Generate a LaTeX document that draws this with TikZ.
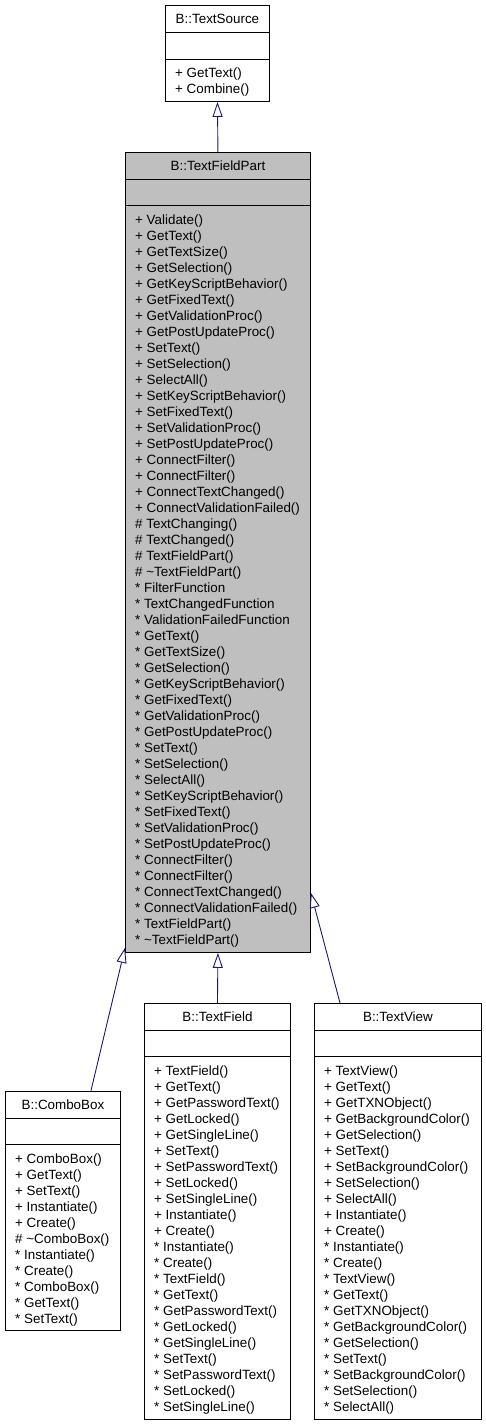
\documentclass[tikz,border=0pt]{standalone}
\usepackage{fontspec}
\setmainfont{Liberation Sans}
\usetikzlibrary{arrows.meta}
\definecolor{edgeblue}{HTML}{191970}
\definecolor{partgray}{HTML}{BFBFBF}
\begin{document}
\begin{tikzpicture}[x=1pt,y=-1pt,
  cls/.style={draw, line width=0.9pt, anchor=north west, inner sep=0pt},
  ttl/.style={inner sep=0pt, font=\fontsize{13.4}{16}\selectfont},
  ops/.style={anchor=north west, align=left, inner xsep=10pt, inner ysep=0pt, font=\fontsize{13.4}{16}\selectfont},
  sep/.style={line width=0.9pt},
  inh/.style={draw=edgeblue, line width=0.9pt, -{Triangle[open, length=15pt, width=10pt]}}]
\useasboundingbox (0,0) rectangle (485,1427);
\node[cls, minimum width=104pt, minimum height=96pt] (src) at (165,5){};
\node[ttl] (srct) at ([yshift=-13.5pt]src.north){B::TextSource};
\draw[sep] ([yshift=-27pt]src.north west) -- ([yshift=-27pt]src.north east);
\draw[sep] ([yshift=-54pt]src.north west) -- ([yshift=-54pt]src.north east);
\node[ops] (srco) at ([yshift=-63pt]src.north west){+ GetText()\\+ Combine()};
\node[cls, fill=partgray, minimum width=185pt, minimum height=800pt] (part) at (125,152){};
\node[ttl] (partt) at ([yshift=-13.5pt]part.north){B::TextFieldPart};
\draw[sep] ([yshift=-27pt]part.north west) -- ([yshift=-27pt]part.north east);
\draw[sep] ([yshift=-53pt]part.north west) -- ([yshift=-53pt]part.north east);
\node[ops] (parto) at ([yshift=-63pt]part.north west){+ Validate()\\+ GetText()\\+ GetTextSize()\\+ GetSelection()\\+ GetKeyScriptBehavior()\\+ GetFixedText()\\+ GetValidationProc()\\+ GetPostUpdateProc()\\+ SetText()\\+ SetSelection()\\+ SelectAll()\\+ SetKeyScriptBehavior()\\+ SetFixedText()\\+ SetValidationProc()\\+ SetPostUpdateProc()\\+ ConnectFilter()\\+ ConnectFilter()\\+ ConnectTextChanged()\\+ ConnectValidationFailed()\\\# TextChanging()\\\# TextChanged()\\\# TextFieldPart()\\\# \textasciitilde TextFieldPart()\\* FilterFunction\\* TextChangedFunction\\* ValidationFailedFunction\\* GetText()\\* GetTextSize()\\* GetSelection()\\* GetKeyScriptBehavior()\\* GetFixedText()\\* GetValidationProc()\\* GetPostUpdateProc()\\* SetText()\\* SetSelection()\\* SelectAll()\\* SetKeyScriptBehavior()\\* SetFixedText()\\* SetValidationProc()\\* SetPostUpdateProc()\\* ConnectFilter()\\* ConnectFilter()\\* ConnectTextChanged()\\* ConnectValidationFailed()\\* TextFieldPart()\\* \textasciitilde TextFieldPart()};
\node[cls, minimum width=115pt, minimum height=239pt] (combo) at (5,1091){};
\node[ttl] (combot) at ([yshift=-13.5pt]combo.north){B::ComboBox};
\draw[sep] ([yshift=-27pt]combo.north west) -- ([yshift=-27pt]combo.north east);
\draw[sep] ([yshift=-53pt]combo.north west) -- ([yshift=-53pt]combo.north east);
\node[ops] (comboo) at ([yshift=-63pt]combo.north west){+ ComboBox()\\+ GetText()\\+ SetText()\\+ Instantiate()\\+ Create()\\\# \textasciitilde ComboBox()\\* Instantiate()\\* Create()\\* ComboBox()\\* GetText()\\* SetText()};
\node[cls, minimum width=146pt, minimum height=416pt] (field) at (144,1003){};
\node[ttl] (fieldt) at ([yshift=-13.5pt]field.north){B::TextField};
\draw[sep] ([yshift=-27pt]field.north west) -- ([yshift=-27pt]field.north east);
\draw[sep] ([yshift=-53pt]field.north west) -- ([yshift=-53pt]field.north east);
\node[ops] (fieldo) at ([yshift=-63pt]field.north west){+ TextField()\\+ GetText()\\+ GetPasswordText()\\+ GetLocked()\\+ GetSingleLine()\\+ SetText()\\+ SetPasswordText()\\+ SetLocked()\\+ SetSingleLine()\\+ Instantiate()\\+ Create()\\* Instantiate()\\* Create()\\* TextField()\\* GetText()\\* GetPasswordText()\\* GetLocked()\\* GetSingleLine()\\* SetText()\\* SetPasswordText()\\* SetLocked()\\* SetSingleLine()};
\node[cls, minimum width=167pt, minimum height=416pt] (view) at (314,1003){};
\node[ttl] (viewt) at ([yshift=-13.5pt]view.north){B::TextView};
\draw[sep] ([yshift=-27pt]view.north west) -- ([yshift=-27pt]view.north east);
\draw[sep] ([yshift=-53pt]view.north west) -- ([yshift=-53pt]view.north east);
\node[ops] (viewo) at ([yshift=-63pt]view.north west){+ TextView()\\+ GetText()\\+ GetTXNObject()\\+ GetBackgroundColor()\\+ GetSelection()\\+ SetText()\\+ SetBackgroundColor()\\+ SetSelection()\\+ SelectAll()\\+ Instantiate()\\+ Create()\\* Instantiate()\\* Create()\\* TextView()\\* GetText()\\* GetTXNObject()\\* GetBackgroundColor()\\* GetSelection()\\* SetText()\\* SetBackgroundColor()\\* SetSelection()\\* SelectAll()};
\draw[inh] (part.north) -- (src.south);
\draw[inh] ([xshift=-30pt]combo.north east) -- ([yshift=5pt]part.south west);
\draw[inh] (field.north) -- (part.south);
\draw[inh] ([xshift=26pt]view.north west) -- ([yshift=60pt]part.south east);
\end{tikzpicture}
\end{document}
